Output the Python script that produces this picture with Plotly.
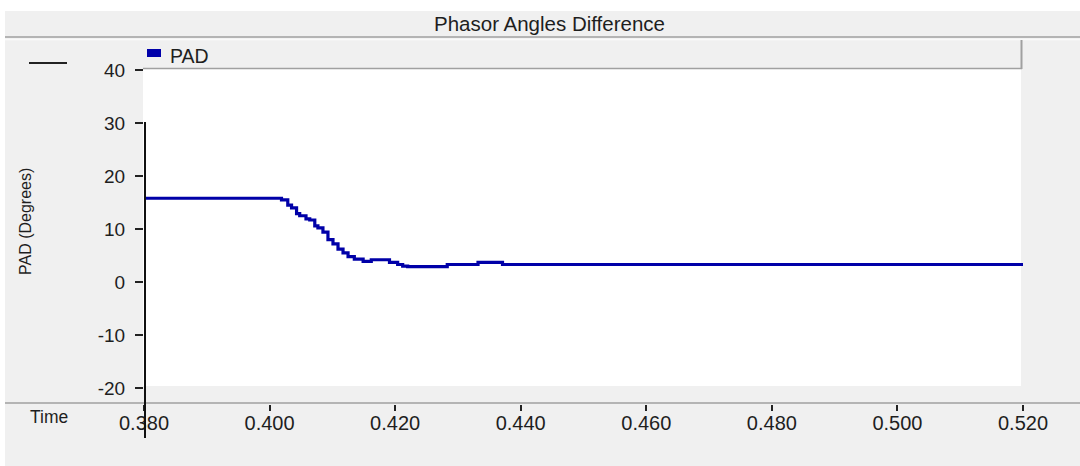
import plotly.graph_objects as go

# ---- data ----
time_s = [0.3800, 0.4019, 0.4029, 0.4035, 0.4043, 0.4048, 0.4058, 0.4064, 0.4072,
          0.4077, 0.4085, 0.4093, 0.4101, 0.4109, 0.4117, 0.4125, 0.4135, 0.4149,
          0.4162, 0.4175, 0.4191, 0.4204, 0.4212, 0.4220, 0.4283, 0.4332, 0.4371,
          0.5200]
pad_deg = [15.8, 15.5, 14.5, 14.0, 12.9, 12.5, 11.9, 11.7, 10.6,
           10.2, 9.4, 8.0, 7.2, 6.2, 5.5, 4.8, 4.3, 3.9,
           4.2, 4.2, 3.7, 3.3, 3.0, 2.9, 3.3, 3.7, 3.3,
           3.3]
series_name = "PAD"
x_ticks = [0.38, 0.40, 0.42, 0.44, 0.46, 0.48, 0.50, 0.52]
x_tick_labels = ["0.380", "0.400", "0.420", "0.440", "0.460", "0.480", "0.500", "0.520"]
y_ticks = [-20, -10, 0, 10, 20, 30, 40]
y_tick_labels = ["-20", "-10", "0", "10", "20", "30", "40"]

# ---- layout geometry (pixels) ----
W, H = 1080, 466
ML, MR, MT, MB = 144, 57, 70, 62
PW, PH = W - ML - MR, H - MT - MB
PLOT_BOTTOM = 388  # pixel row of the bottom of the y range


def px(x):
    return (x - ML) / PW


def py(y):
    return (H - MB - y) / PH


FONT = "Liberation Sans, Arial, sans-serif"
TXT = "#1e1e1e"
GRAY_BG = "#f0f0f0"
GRAY_LINE = "#a0a0a0"
BLUE = "#0000a8"

fig = go.Figure()
fig.add_trace(go.Scatter(
    x=time_s, y=pad_deg, mode="lines", name=series_name,
    line=dict(color=BLUE, width=3.2, shape="hv"), showlegend=False,
))

shapes = [
    # grey frame background
    dict(type="rect", xref="paper", yref="paper", x0=px(5), x1=px(W), y0=py(H), y1=py(11),
         fillcolor=GRAY_BG, line=dict(width=0), layer="below"),
    # white plotting area
    dict(type="rect", xref="paper", yref="paper", x0=px(143), x1=px(1021), y0=py(386), y1=py(69),
         fillcolor="white", line=dict(width=0), layer="below"),
    # title bar separator
    dict(type="line", xref="paper", yref="paper", x0=px(5), x1=px(W), y0=py(37), y1=py(37),
         line=dict(color=GRAY_LINE, width=1.5)),
    dict(type="line", xref="paper", yref="paper", x0=px(5), x1=px(W), y0=py(39.5), y1=py(39.5),
         line=dict(color="#fafafa", width=1.5)),
    # legend bar borders
    dict(type="line", xref="paper", yref="paper", x0=px(143), x1=px(1022), y0=py(68.5), y1=py(68.5),
         line=dict(color=GRAY_LINE, width=1.5)),
    dict(type="line", xref="paper", yref="paper", x0=px(1021.5), x1=px(1021.5), y0=py(40), y1=py(69),
         line=dict(color=GRAY_LINE, width=2)),
    # legend swatch
    dict(type="rect", xref="paper", yref="paper", x0=px(147), x1=px(161), y0=py(57), y1=py(49),
         fillcolor="#0000aa", line=dict(width=0)),
    # bottom separator (above time axis)
    dict(type="line", xref="paper", yref="paper", x0=px(5), x1=px(W), y0=py(403), y1=py(403),
         line=dict(color=GRAY_LINE, width=1.5)),
    # black cursor / axis line
    dict(type="line", xref="paper", yref="paper", x0=px(145), x1=px(145), y0=py(122), y1=py(438),
         line=dict(color="#111111", width=2)),
    # short black line at top left
    dict(type="line", xref="paper", yref="paper", x0=px(29), x1=px(67), y0=py(63), y1=py(63),
         line=dict(color="#222222", width=2)),
]

annotations = [
    dict(text="Phasor Angles Difference", xref="paper", yref="paper", x=px(549.5), y=py(24),
         showarrow=False, xanchor="center", yanchor="middle", font=dict(size=20.5, color=TXT, family=FONT)),
    dict(text=series_name, xref="paper", yref="paper", x=px(168), y=py(55.5),
         showarrow=False, xanchor="left", yanchor="middle", font=dict(size=19.5, color=TXT, family=FONT)),
    dict(text="PAD (Degrees)", xref="paper", yref="paper", x=px(25), y=py(222), textangle=-90,
         showarrow=False, xanchor="center", yanchor="middle", font=dict(size=16, color=TXT, family=FONT)),
    dict(text="Time", xref="paper", yref="paper", x=px(48.5), y=py(416.5),
         showarrow=False, xanchor="center", yanchor="middle", font=dict(size=17.5, color=TXT, family=FONT)),
]

fig.update_layout(
    width=W, height=H,
    margin=dict(l=ML, r=MR, t=MT, b=MB, pad=0),
    paper_bgcolor="white", plot_bgcolor="rgba(0,0,0,0)",
    font=dict(family=FONT, color=TXT),
    shapes=shapes, annotations=annotations,
    showlegend=False,
    xaxis=dict(
        range=[0.38, 0.52], tickvals=x_ticks, ticktext=x_tick_labels,
        anchor="free", position=0, showgrid=False, zeroline=False, showline=False,
        ticks="outside", ticklen=6, tickwidth=2, tickcolor="#222222",
        ticklabelstandoff=-5,
        tickfont=dict(size=20, color=TXT, family=FONT),
    ),
    yaxis=dict(
        range=[-20, 40], domain=[py(PLOT_BOTTOM), 1], tickvals=y_ticks, ticktext=y_tick_labels,
        showgrid=False, zeroline=False, showline=False,
        ticks="outside", ticklen=8, tickwidth=2, tickcolor="#222222",
        ticklabelstandoff=6,
        tickfont=dict(size=19, color=TXT, family=FONT),
    ),
)

fig.write_html("out.html")
